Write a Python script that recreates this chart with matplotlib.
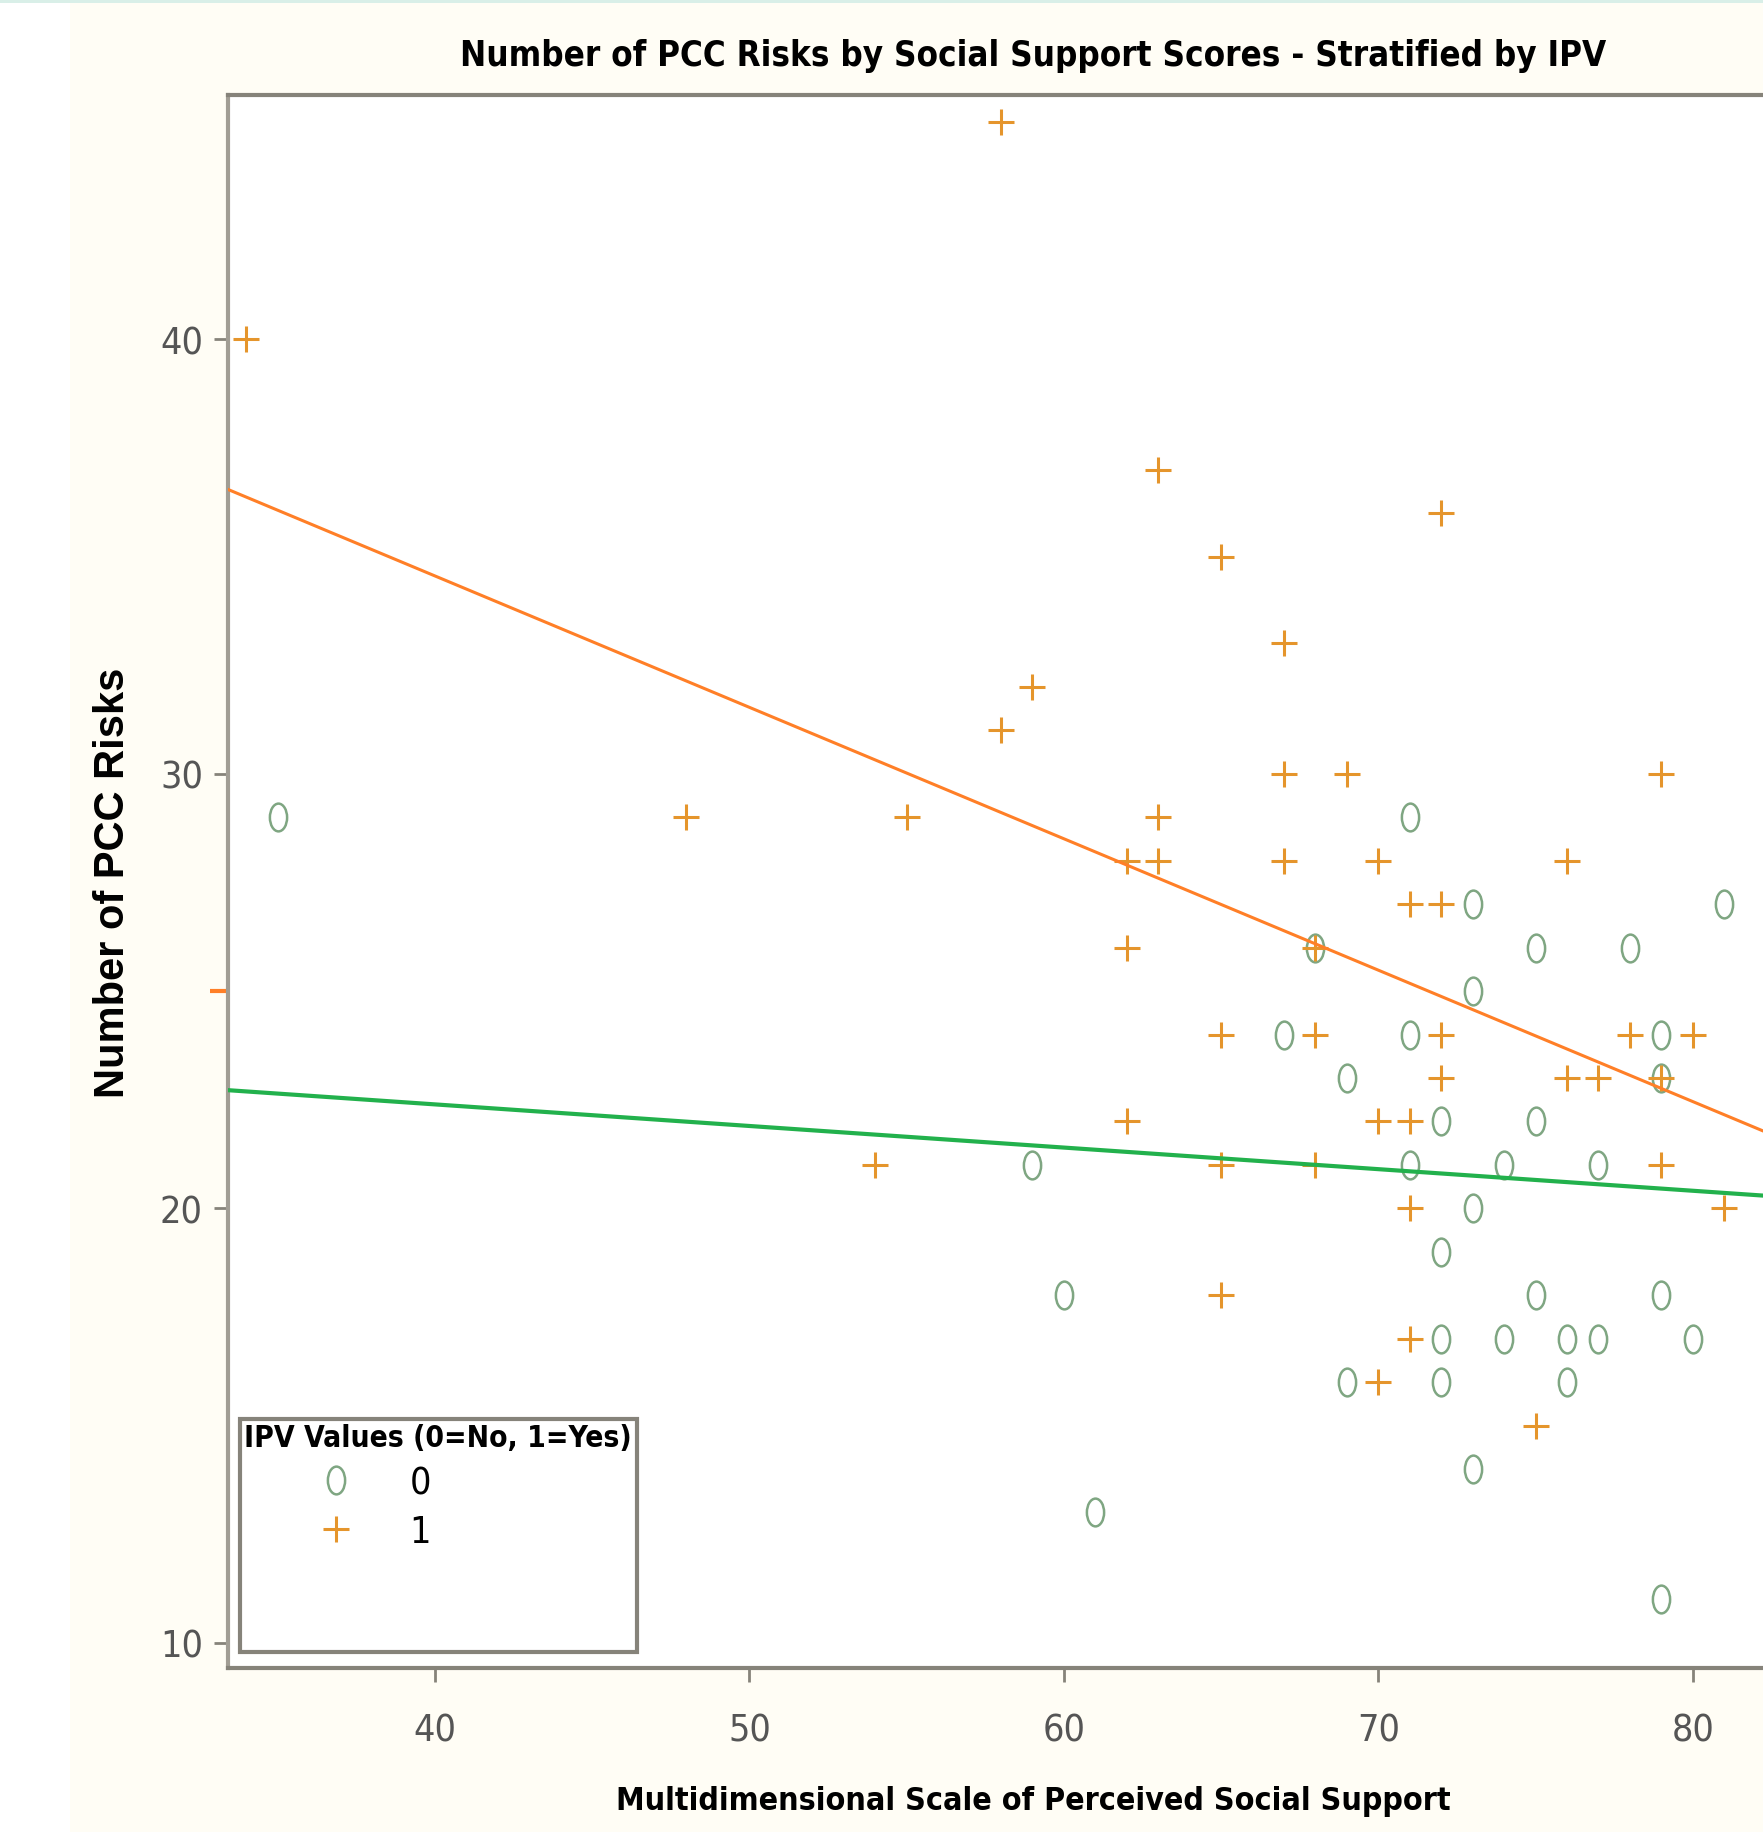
'''
Number of PCC risks against perceived social support (MSPSS), split by IPV status,
with a straight fitted line for each group
'''
import matplotlib.pyplot as plt
import numpy as np
from matplotlib.lines import Line2D
from matplotlib.path import Path
from matplotlib.transforms import Affine2D
from matplotlib.patches import Rectangle

# IPV = 1 (yes)
ipv1_x = [34, 58, 48, 55, 54, 59, 58, 63, 65, 72, 67, 67, 69, 79, 63, 62, 63, 67, 70, 76, 71, 72,
          62, 68, 65, 68, 72, 78, 80, 72, 76, 77, 79, 62, 70, 71, 65, 68, 79, 71, 81, 65, 71, 70, 75]
ipv1_y = [40, 45, 29, 29, 21, 32, 31, 37, 35, 36, 33, 30, 30, 30, 29, 28, 28, 28, 28, 28, 27, 27,
          26, 26, 24, 24, 24, 24, 24, 23, 23, 23, 23, 22, 22, 22, 21, 21, 21, 20, 20, 18, 17, 16, 15]

# IPV = 0 (no)
ipv0_x = [35, 71, 73, 81, 68, 75, 78, 73, 67, 71, 79, 69, 79, 72, 75, 59, 71, 74, 77, 73, 72, 60,
          75, 79, 72, 74, 76, 77, 80, 69, 72, 76, 73, 61, 79]
ipv0_y = [29, 29, 27, 27, 26, 26, 26, 25, 24, 24, 24, 23, 23, 22, 22, 21, 21, 21, 21, 20, 19, 18,
          18, 18, 17, 17, 17, 17, 17, 16, 16, 16, 14, 13, 11]

# fitted lines at both ends
fit_x = [33.4, 82.5]
fit_y_ipv1 = [36.55, 21.70]
fit_y_ipv0 = [22.72, 20.28]

x_ticks = [40, 50, 60, 70, 80]
y_ticks = [10, 20, 30, 40]
y_mark = [25]   # stray orange tick on the y axis

cream = '#fffdf5'
frame = '#86837a'
c_yes = '#e5952c'
c_no = '#7fa682'

# tall oval used for the IPV=0 points
oval = Path.unit_circle().transformed(Affine2D().scale(0.62, 1.0))

fig = plt.figure(figsize=(17.63, 18.33), dpi=100, facecolor=cream)
fig.patches.append(Rectangle((0, 0), 70/1763, 1, transform=fig.transFigure,
                             facecolor='white', edgecolor='none', zorder=-1))
fig.patches.append(Rectangle((0, 1 - 4/1833), 1, 4/1833, transform=fig.transFigure,
                             facecolor='#d9efe8', edgecolor='none', zorder=-1))

ax = fig.add_axes([0.1293, 0.0892, 0.8755, 0.8584])
ax.set_facecolor('white')

ax.plot(ipv0_x, ipv0_y, ls='none', marker=oval, ms=20, mfc='none', mec=c_no, mew=1.8, zorder=2)
ax.plot(ipv1_x, ipv1_y, ls='none', marker='+', ms=19, mec=c_yes, mew=2.2, zorder=2)
ax.plot(fit_x, fit_y_ipv1, color='#ff7f27', lw=2.2, zorder=3)
ax.plot(fit_x, fit_y_ipv0, color='#22b14c', lw=3.0, zorder=3)

ax.set_xlim(33.42, 82.5)
ax.set_ylim(9.41, 45.62)
ax.set_xticks(x_ticks)
ax.set_yticks(y_ticks)
ax.set_yticks(y_mark, minor=True)

for s in ax.spines.values():
    s.set_color(frame)
    s.set_linewidth(3)
ax.spines['left'].set_color('#a19d94')
ax.tick_params(axis='both', color=frame, width=2, length=10, labelcolor='#555555', labelsize=27)
ax.tick_params(axis='x', pad=22)
ax.tick_params(axis='y', pad=8)
ax.tick_params(axis='y', which='minor', color='#ff7f27', width=3, length=13)
for lab in ax.get_xticklabels() + ax.get_yticklabels():
    lab.set_fontstretch('condensed')

fig.text(0.5862, 0.9694, 'Number of PCC Risks by Social Support Scores - Stratified by IPV',
         ha='center', va='center', fontsize=25, fontweight='bold', fontstretch='condensed')
fig.text(0.5862, 0.0171, 'Multidimensional Scale of Perceived Social Support',
         ha='center', va='center', fontsize=23, fontweight='bold', fontstretch='condensed')
fig.text(0.0643, 0.5184, 'Number of PCC Risks', rotation=90, ha='center', va='center',
         fontsize=30, fontweight='bold', family=['Liberation Sans', 'DejaVu Sans'])

handles = [Line2D([], [], ls='none', marker=oval, ms=20, mfc='none', mec=c_no, mew=1.8),
           Line2D([], [], ls='none', marker='+', ms=19, mec=c_yes, mew=2.2),
           Line2D([], [], ls='none'),
           Line2D([], [], ls='none')]
leg = ax.legend(handles, ['0', '1', ' ', ' '], title='IPV Values (0=No, 1=Yes)',
                loc='lower left', bbox_to_anchor=(0.0078, 0.0105), borderaxespad=0,
                prop={'size': 27, 'stretch': 'condensed'}, numpoints=1,
                handlelength=4.9, handletextpad=-0.5, labelspacing=0.34,
                borderpad=0.12, fancybox=False, framealpha=1, edgecolor=frame)
leg.get_frame().set_linewidth(3)
leg.get_title().set_fontproperties({'size': 21.5, 'weight': 'bold', 'stretch': 'condensed'})
leg._legend_box.align = 'left'

fig.savefig('out.png', dpi=100, facecolor=cream)
